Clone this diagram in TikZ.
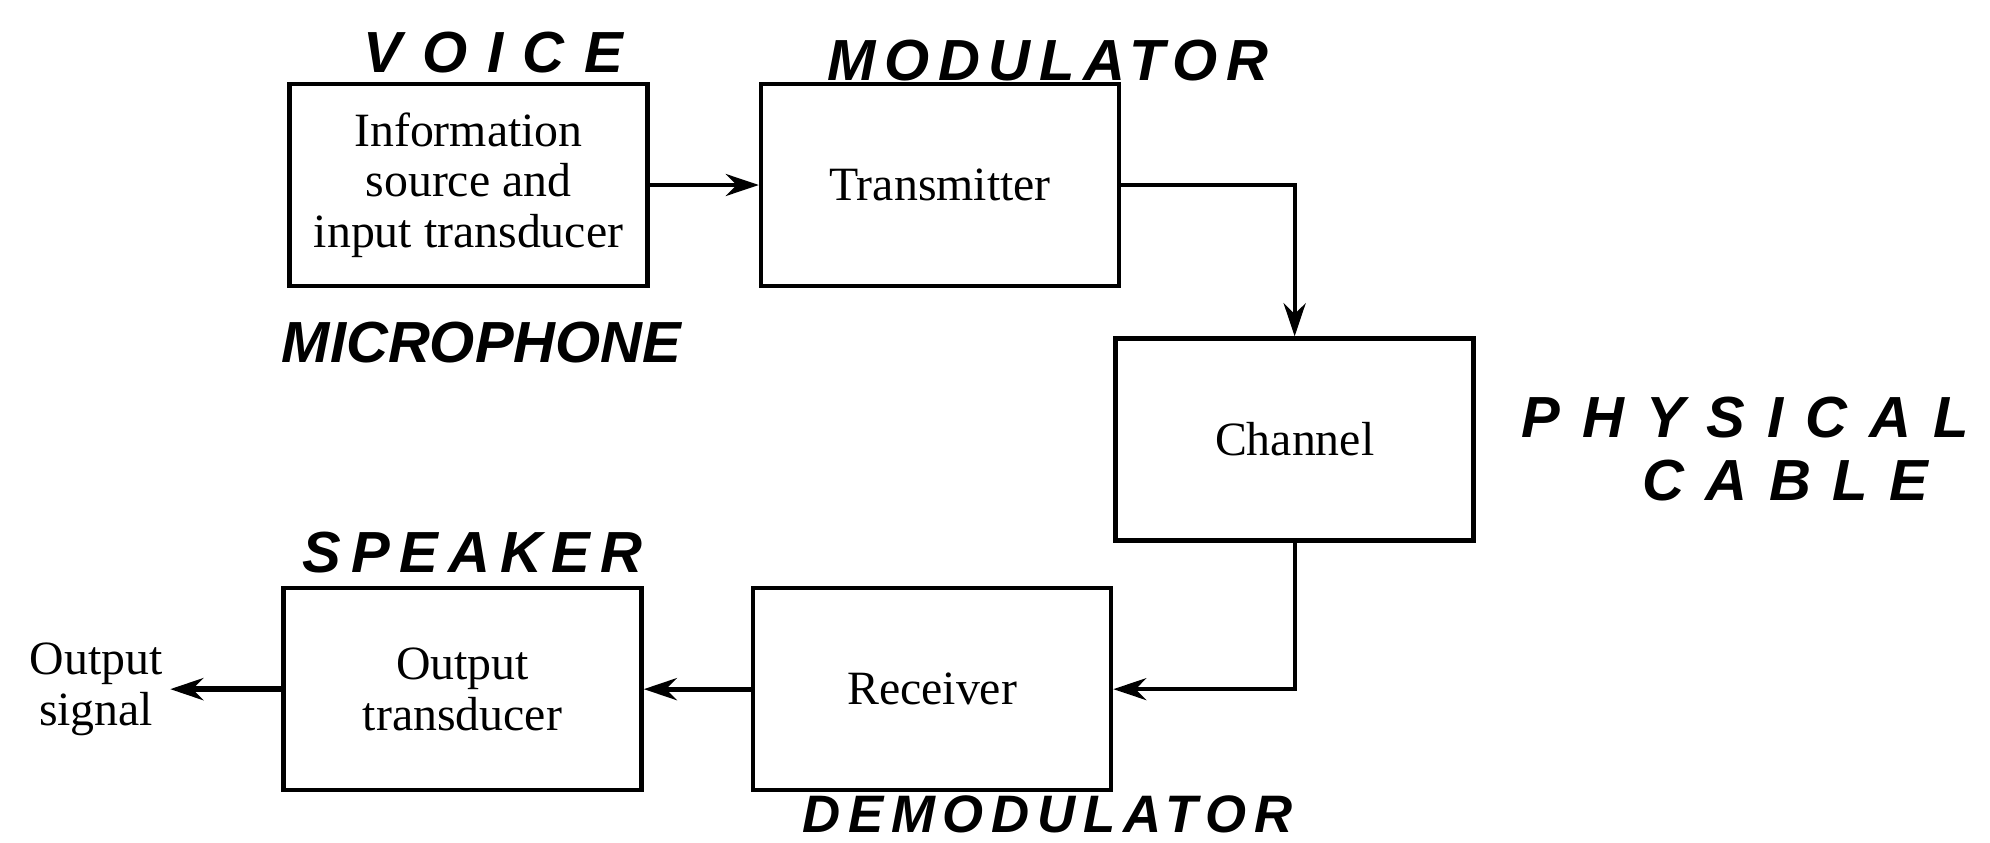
\documentclass[tikz,border=0pt]{standalone}
\usepackage{fontspec}
\setmainfont{Liberation Serif}
\newfontfamily\handfont{Liberation Sans}
\usepackage{tikz}
\usetikzlibrary{arrows.meta, positioning}

\begin{document}
\begin{tikzpicture}[
    node distance=1.0cm,
    block/.style={rectangle, draw, line width=1.3pt, minimum width=3.58cm, minimum height=2.02cm, align=center, inner sep=0pt, font=\fontsize{13.6}{14.4}\selectfont},
    hand/.style={inner sep=0pt, font=\handfont\bfseries\itshape\fontsize{16.5}{18}\selectfont\addfontfeatures{LetterSpace=#1}},
    smallhand/.style={inner sep=0pt, font=\handfont\bfseries\itshape\fontsize{15}{16}\selectfont\addfontfeatures{LetterSpace=#1}},
    arr/.style={->, >={Stealth[length=3.3mm, width=2.2mm]}, line width=1.2pt}
]
    \useasboundingbox (0,0) rectangle (19.9,8.42);

    \node[block] (info) at (4.685,6.57) {Information\\source and\\input transducer};
    \node[block, right=1.09cm of info] (trans) {Transmitter};
    \node[block, below right=0.48cm and -0.08cm of trans] (channel) {Channel};
    \node[block, below left=0.43cm and 0cm of channel] (rx) {Receiver};
    \node[block, left=1.07cm of rx] (outtr) {Output\\transducer};
    \node[align=center, inner sep=0.07cm, left=1.11cm of outtr, font=\fontsize{13.6}{14.4}\selectfont] (outsig) {Output\\signal};

    % handwritten notes
    \node[hand=34, above=0.08cm of info.north, xshift=0.25cm] (voice) {VOICE};
    \node[hand=15, above=0cm of trans.north, xshift=1.08cm] (modlbl) {MODULATOR};
    \node[hand=0, below=0.33cm of info.south, xshift=0.13cm] (mic) {MICROPHONE};
    \node[hand=38, right=0.45cm of channel.east, yshift=0.22cm] (phys) {PHYSICAL};
    \node[hand=37, below=0.2cm of phys, xshift=0.4cm] (cable) {CABLE};
    \node[hand=17, above=0.12cm of outtr.north, xshift=0.1cm] (spk) {SPEAKER};
    \node[smallhand=15, below=0.03cm of rx.south, xshift=1.15cm] (demod) {DEMODULATOR};

    \draw[arr] (info) -- (trans);
    \draw[arr] (trans) -| (channel);
    \draw[arr] (channel) |- (rx);
    \draw[arr, line width=1.5pt] (rx) -- (outtr);
    \draw[arr, line width=1.6pt] (outtr) -- (outsig);
\end{tikzpicture}
\end{document}
